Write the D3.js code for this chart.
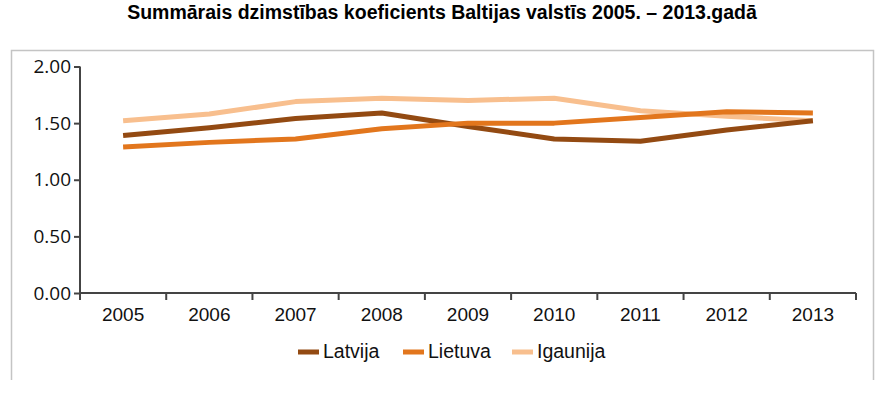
<!DOCTYPE html>
<html>
<head>
<meta charset="utf-8">
<script src="https://cdn.jsdelivr.net/npm/d3@7"></script>
<style>
  html, body { margin: 0; padding: 0; background: #fff; }
  svg { display: block; }
</style>
</head>
<body>
<svg id="chart" width="886" height="393"></svg>
<script>
const title = "Summārais dzimstības koeficients Baltijas valstīs 2005. – 2013.gadā";
const years = ["2005", "2006", "2007", "2008", "2009", "2010", "2011", "2012", "2013"];
const seriesNames = ["Latvija", "Lietuva", "Igaunija"];
const latvija  = [1.39, 1.46, 1.54, 1.59, 1.47, 1.36, 1.34, 1.44, 1.52];
const lietuva  = [1.29, 1.33, 1.36, 1.45, 1.50, 1.50, 1.55, 1.60, 1.59];
const igaunija = [1.52, 1.58, 1.69, 1.72, 1.70, 1.72, 1.61, 1.56, 1.52];
const yTicks = [0, 0.5, 1.0, 1.5, 2.0];
const colors = ["#934a12", "#e2761d", "#f8bf8e"];

const seriesValues = [latvija, lietuva, igaunija];

const svg = d3.select("#chart");

// frame (top, left, right)
svg.append("path")
  .attr("d", "M11.5,380 V50.5 H873.5 V380")
  .attr("fill", "none")
  .attr("stroke", "#c4c4c4")
  .attr("stroke-width", 1.5);

// title
svg.append("text")
  .attr("x", 442).attr("y", 19)
  .attr("text-anchor", "middle")
  .attr("font-family", "Liberation Sans, Arial, sans-serif")
  .attr("font-weight", "bold")
  .attr("font-size", 19.5)
  .attr("fill", "#000")
  .text(title);

const x = d3.scaleBand().domain(years).range([80, 856]).padding(0);
const y = d3.scaleLinear().domain([0, 2]).range([293, 66.5]);

// y axis
const yAxis = svg.append("g")
  .attr("transform", "translate(80,0)")
  .call(d3.axisLeft(y).tickValues(yTicks).tickFormat(d3.format(".2f")).tickSize(6).tickPadding(3));
yAxis.select(".domain").attr("stroke", "#444").attr("stroke-width", 2).attr("d", "M0,66.5 V300");
yAxis.selectAll(".tick line").attr("stroke", "#444").attr("stroke-width", 2);
yAxis.selectAll(".tick text")
  .attr("font-family", "Open Sans, Noto Sans, sans-serif")
  .attr("font-size", 19)
  .attr("fill", "#111");

// x axis (labels centred in bands)
const xAxis = svg.append("g")
  .attr("transform", "translate(0,293)")
  .call(d3.axisBottom(x).tickSize(0).tickPadding(15));
xAxis.select(".domain").attr("stroke", "#444").attr("stroke-width", 2).attr("d", "M80,0 H856");
xAxis.selectAll(".tick text")
  .attr("font-family", "Liberation Sans, Arial, sans-serif")
  .attr("font-size", 19)
  .attr("fill", "#111");

// x boundary ticks
const bounds = years.map(d => x(d)).concat([x.range()[1]]);
svg.append("g").selectAll("line").data(bounds).join("line")
  .attr("x1", d => d).attr("x2", d => d)
  .attr("y1", 293).attr("y2", 300)
  .attr("stroke", "#444").attr("stroke-width", 2);

// lines
const line = d3.line()
  .x((d, i) => x(years[i]) + x.bandwidth() / 2)
  .y(d => y(d));

[2, 0, 1].forEach(k => {
  svg.append("path")
    .datum(seriesValues[k])
    .attr("d", line)
    .attr("fill", "none")
    .attr("stroke", colors[k])
    .attr("stroke-width", 5)
    .attr("stroke-linejoin", "round");
});

// legend
const legendX = [298, 403, 512];
const lg = svg.append("g");
seriesNames.forEach((name, i) => {
  lg.append("rect")
    .attr("x", legendX[i]).attr("y", 349.5)
    .attr("width", 21).attr("height", 5)
    .attr("fill", colors[i]);
  lg.append("text")
    .attr("x", legendX[i] + 25).attr("y", 358)
    .attr("font-family", "Liberation Sans, Arial, sans-serif")
    .attr("font-size", 19.5)
    .attr("fill", "#111")
    .text(name);
});
</script>
</body>
</html>
